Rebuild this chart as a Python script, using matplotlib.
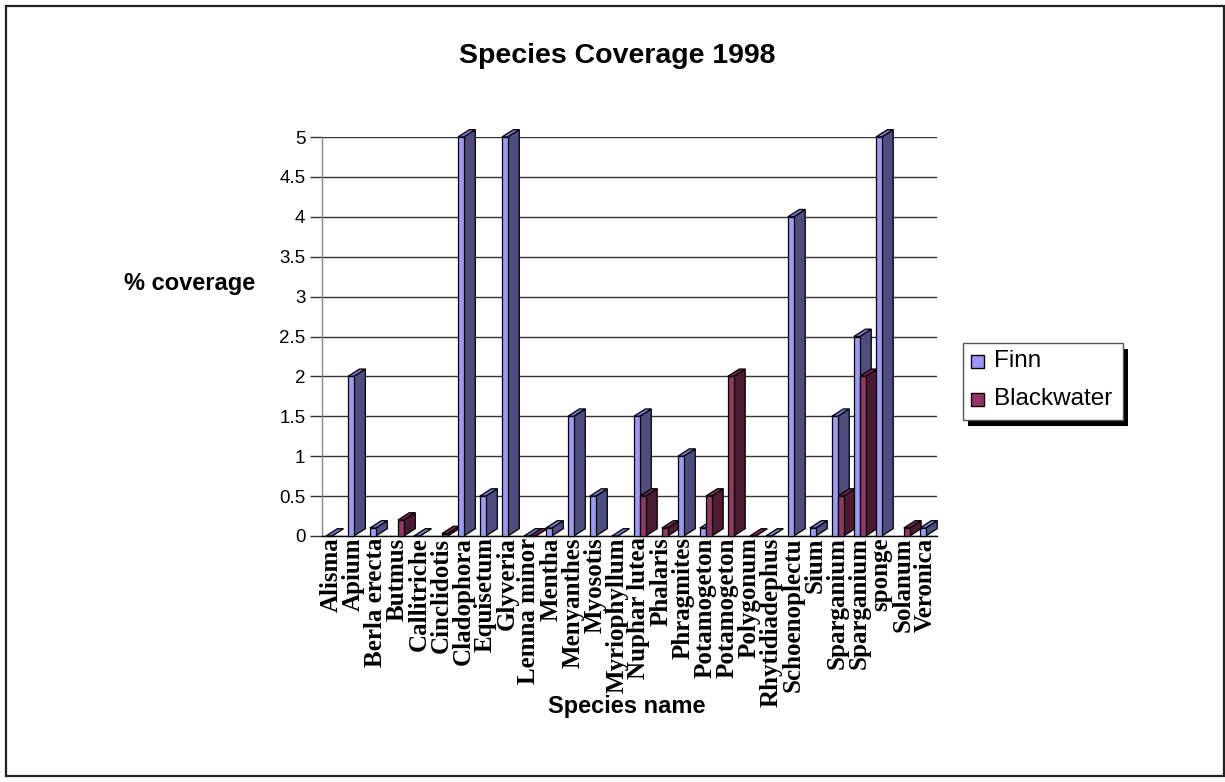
import matplotlib
matplotlib.use("Agg")
import matplotlib.pyplot as plt
from matplotlib.patches import Polygon, Rectangle
import numpy as np

species = ["Alisma", "Apium", "Berla erecta", "Butmus", "Callitriche",
           "Cinclidotis", "Cladophora", "Equisetum", "Glyveria", "Lemna minor",
           "Mentha", "Menyanthes", "Myosotis", "Myriophyllum", "Nuphar lutea",
           "Phalaris", "Phragmites", "Potamogeton", "Potamogeton", "Polygonum",
           "Rhytidiadephus", "Schoenoplectu", "Sium", "Sparganium", "Sparganium",
           "sponge", "Solanum", "Veronica"]

nan = np.nan
finn = [0, 2, 0.1, nan, 0, nan, 5, 0.5, 5, 0,
        0.1, 1.5, 0.5, 0, 1.5, nan, 1, 0.1, nan, nan,
        0, 4, 0.1, 1.5, 2.5, 5, nan, 0.1]
blackwater = [nan, nan, nan, 0.2, nan, 0.03, nan, nan, nan, 0,
              nan, nan, nan, nan, 0.5, 0.1, nan, 0.5, 2, 0,
              nan, nan, nan, 0.5, 2, nan, 0.1, nan]

yticks = [0, 0.5, 1, 1.5, 2, 2.5, 3, 3.5, 4, 4.5, 5]

W, H = 1225, 782
fig = plt.figure(figsize=(W / 100, H / 100), dpi=100)
fig.patch.set_facecolor("white")

# outer chart border
fig.add_artist(Rectangle((6 / W, 1 - 776 / H), (1224 - 6) / W, (776 - 6) / H,
                         transform=fig.transFigure, fill=False,
                         edgecolor="#222222", lw=1.6))

ax = fig.add_axes([322 / W, 1 - 536 / H, (937 - 322) / W, (536 - 137) / H])
ax.set_xlim(-0.41, 27.55)
ax.set_ylim(0, 5)
ax.set_facecolor("white")
for s in ["top", "right"]:
    ax.spines[s].set_visible(False)
ax.spines["left"].set_color("#888888")
ax.spines["left"].set_linewidth(1.0)
ax.spines["bottom"].set_color("black")
ax.spines["bottom"].set_linewidth(1.0)
ax.set_yticks(yticks)
ax.set_yticklabels([f"{v:g}" for v in yticks], fontsize=13.5,
                   family="Liberation Sans")
ax.tick_params(axis="y", length=9, width=1.0, color="#333333", pad=3)
ax.yaxis.grid(True, color="#333333", lw=1.0)
ax.set_axisbelow(True)

x = np.arange(len(species))
ax.set_xticks(x)
ax.set_xticklabels(species, rotation=90, fontsize=18, fontweight="bold",
                   family="Liberation Serif", va="top", ha="center")
ax.tick_params(axis="x", length=0, pad=1)

bw = 0.27          # front face width (category units)
dx = 0.52          # depth offset in x (category units)
dy = 0.092         # depth offset in y (value units)

series = [
    (finn, -0.23, "#9999FF", "#4D4D80", "#7777CC"),
    (blackwater, 0.04, "#993366", "#4D1A33", "#73264D"),
]

for i in range(len(species)):
    for vals, off, c_front, c_side, c_top in series:
        v = vals[i]
        if np.isnan(v):
            continue
        x0 = i + off
        x1 = x0 + bw
        z = 3 + i * 2
        # right side face
        ax.add_patch(Polygon([(x1, 0), (x1 + dx, dy), (x1 + dx, v + dy), (x1, v)],
                             closed=True, facecolor=c_side, edgecolor="black",
                             lw=0.9, zorder=z, clip_on=False))
        # top face
        ax.add_patch(Polygon([(x0, v), (x1, v), (x1 + dx, v + dy), (x0 + dx, v + dy)],
                             closed=True, facecolor=c_top, edgecolor="black",
                             lw=0.9, zorder=z, clip_on=False))
        # front face
        ax.bar(x0, v, width=bw, align="edge", color=c_front,
               edgecolor="black", lw=0.9, zorder=z + 0.5, clip_on=False)

fig.text(617 / W, 1 - 56 / H, "Species Coverage 1998", ha="center", va="center",
         fontsize=20.5, fontweight="bold", family="Liberation Sans")
fig.text(190 / W, 1 - 283 / H, "% coverage", ha="center", va="center",
         fontsize=17, fontweight="bold", family="Liberation Sans")
fig.text(627 / W, 1 - 706 / H, "Species name", ha="center", va="center",
         fontsize=17, fontweight="bold", family="Liberation Sans")

# legend with drop shadow
lx0, ly0, lx1, ly1 = 963, 343, 1123, 420
fig.add_artist(Rectangle(((lx0 + 5) / W, 1 - (ly1 + 6) / H), (lx1 - lx0) / W,
                         (ly1 - ly0) / H, transform=fig.transFigure,
                         facecolor="black", edgecolor="black", lw=0))
fig.add_artist(Rectangle((lx0 / W, 1 - ly1 / H), (lx1 - lx0) / W, (ly1 - ly0) / H,
                         transform=fig.transFigure, facecolor="white",
                         edgecolor="#555555", lw=1.0))
for label, color, yc in [("Finn", "#9999FF", 361), ("Blackwater", "#993366", 399)]:
    fig.add_artist(Rectangle((971 / W, 1 - (yc + 7) / H), 13 / W, 13 / H,
                             transform=fig.transFigure, facecolor=color,
                             edgecolor="black", lw=1.0))
    fig.text(994 / W, 1 - yc / H, label, ha="left", va="center", fontsize=17.5,
             family="Liberation Sans")

fig.savefig("out.png", dpi=100)
